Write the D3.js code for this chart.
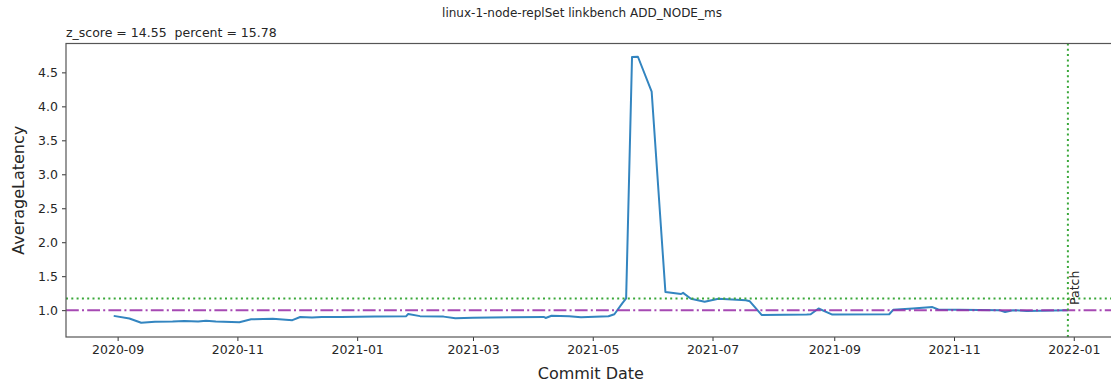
<!DOCTYPE html>
<html>
<head>
<meta charset="utf-8">
<script src="https://cdn.jsdelivr.net/npm/d3@7"></script>
<style>
  html, body { margin: 0; padding: 0; background: #fff; }
  svg { display: block; font-family: "DejaVu Sans", sans-serif; }
</style>
</head>
<body>
<svg id="chart" width="1111" height="387"></svg>
<script>
// ---- data ----
const dates = [
  "2020-08-30","2020-09-07","2020-09-13","2020-09-20","2020-09-29","2020-10-05",
  "2020-10-12","2020-10-16","2020-10-21","2020-11-02","2020-11-08","2020-11-19",
  "2020-11-29","2020-12-03","2020-12-09","2020-12-14","2020-12-24","2021-01-10",
  "2021-01-26","2021-01-27","2021-02-02","2021-02-14","2021-02-20","2021-03-01",
  "2021-03-20","2021-04-06","2021-04-07","2021-04-10","2021-04-19","2021-04-25",
  "2021-05-09","2021-05-12","2021-05-16","2021-05-18","2021-05-21","2021-05-24",
  "2021-05-31","2021-06-07","2021-06-12","2021-06-15","2021-06-16","2021-06-20",
  "2021-06-27","2021-07-04","2021-07-18","2021-07-20","2021-07-26","2021-08-18",
  "2021-08-20","2021-08-24","2021-08-31","2021-09-29","2021-10-01","2021-10-11",
  "2021-10-21","2021-10-24","2021-11-24","2021-11-27","2021-12-01","2021-12-08",
  "2021-12-29"
];
const latency = [
  0.916,0.878,0.815,0.830,0.832,0.842,
  0.832,0.845,0.832,0.822,0.866,0.872,
  0.853,0.900,0.892,0.898,0.900,0.908,
  0.912,0.945,0.912,0.905,0.880,0.890,
  0.895,0.900,0.885,0.918,0.910,0.895,
  0.910,0.940,1.100,1.175,4.725,4.730,
  4.215,1.268,1.250,1.238,1.255,1.168,
  1.125,1.168,1.145,1.130,0.930,0.935,
  0.940,1.025,0.935,0.940,1.005,1.025,
  1.045,1.010,1.000,0.972,1.000,0.988,
  1.000
];
const baselineValue = 1.0;
const thresholdValue = 1.172;
const patchDate = "2021-12-29";
const yTicks = [1.0, 1.5, 2.0, 2.5, 3.0, 3.5, 4.0, 4.5];
const xTicks = ["2020-09-01","2020-11-01","2021-01-01","2021-03-01","2021-05-01",
                "2021-07-01","2021-09-01","2021-11-01","2022-01-01"];
const titleText = "linux-1-node-replSet linkbench ADD_NODE_ms";
const subtitleText = "z_score = 14.55  percent = 15.78";
const xLabel = "Commit Date";
const yLabel = "AverageLatency";
const patchLabel = "Patch";

// ---- layout ----
const W = 1111, H = 387;
const L = 66, T = 43.5, B = 337, R = 1115.6;
const parse = d3.utcParse("%Y-%m-%d");
const fmt = d3.utcFormat("%Y-%m");
const pts = dates.map((d, i) => ({ d: parse(d), v: latency[i] }));

const ext = d3.extent(pts, p => p.d);
const span = ext[1] - ext[0];
const x = d3.scaleUtc()
  .domain([new Date(+ext[0] - 0.05 * span), new Date(+ext[1] + 0.05 * span)])
  .range([L, R]);
const y = d3.scaleLinear().domain([0.605, 4.925]).range([B, T]);

const svg = d3.select("#chart");
svg.append("rect").attr("width", W).attr("height", H).attr("fill", "#fff");

svg.append("defs").append("clipPath").attr("id", "clip")
  .append("rect").attr("x", L).attr("y", T).attr("width", R - L).attr("height", B - T);

const plot = svg.append("g").attr("clip-path", "url(#clip)");

// series line
plot.append("path")
  .datum(pts)
  .attr("fill", "none")
  .attr("stroke", "#3385c0")
  .attr("stroke-width", 2)
  .attr("stroke-linejoin", "round")
  .attr("d", d3.line().x(p => x(p.d)).y(p => y(p.v)));

// threshold (green dotted)
plot.append("line")
  .attr("x1", L).attr("x2", R)
  .attr("y1", y(thresholdValue)).attr("y2", y(thresholdValue))
  .attr("stroke", "#3aa83a").attr("stroke-width", 2)
  .attr("stroke-dasharray", "2,3.3");

// baseline (purple dash-dot)
plot.append("line")
  .attr("x1", L).attr("x2", R)
  .attr("y1", y(baselineValue)).attr("y2", y(baselineValue))
  .attr("stroke", "#9a30a8").attr("stroke-opacity", 0.88).attr("stroke-width", 2)
  .attr("stroke-dasharray", "12.8,3.2,2,3.2");

// patch vertical line
const px = x(parse(patchDate));
plot.append("line")
  .attr("x1", px).attr("x2", px)
  .attr("y1", T).attr("y2", B)
  .attr("stroke", "#3aa83a").attr("stroke-width", 2)
  .attr("stroke-dasharray", "2,3.3");

// axes
const xAxis = d3.axisBottom(x)
  .tickValues(xTicks.map(parse))
  .tickFormat(fmt)
  .tickSize(4).tickPadding(4);
const gx = svg.append("g").attr("transform", `translate(0,${B})`).call(xAxis);
gx.select(".domain").remove();

const yAxis = d3.axisLeft(y)
  .tickValues(yTicks)
  .tickFormat(d3.format(".1f"))
  .tickSize(4).tickPadding(4);
const gy = svg.append("g").attr("transform", `translate(${L},0)`).call(yAxis);
gy.select(".domain").remove();

[gx, gy].forEach(g => {
  g.selectAll(".tick line").attr("stroke", "#333").attr("stroke-width", 1);
  g.selectAll(".tick text")
    .attr("fill", "#262626")
    .style("font-family", "DejaVu Sans")
    .style("font-size", "12.5px");
});
gy.selectAll(".tick text").attr("dy", "0.34em");

// spines
svg.append("rect")
  .attr("x", L).attr("y", T).attr("width", R - L).attr("height", B - T)
  .attr("fill", "none").attr("stroke", "#555").attr("stroke-width", 1.2);

// texts
svg.append("text")
  .attr("x", 582).attr("y", 17)
  .attr("text-anchor", "middle")
  .attr("fill", "#262626")
  .style("font-size", "12px")
  .text(titleText);

svg.append("text")
  .attr("x", L).attr("y", 37)
  .attr("fill", "#262626")
  .attr("xml:space", "preserve")
  .style("white-space", "pre")
  .style("font-size", "12.5px")
  .text(subtitleText);

svg.append("text")
  .attr("x", (L + R) / 2).attr("y", 379)
  .attr("text-anchor", "middle")
  .attr("fill", "#262626")
  .style("font-size", "16px")
  .text(xLabel);

svg.append("text")
  .attr("transform", `translate(24,${(T + B) / 2}) rotate(-90)`)
  .attr("text-anchor", "middle")
  .attr("fill", "#262626")
  .style("font-size", "16px")
  .text(yLabel);

svg.append("text")
  .attr("transform", `translate(${px + 11},${305}) rotate(-90)`)
  .attr("text-anchor", "start")
  .attr("fill", "#262626")
  .style("font-size", "12.5px")
  .text(patchLabel);
</script>
</body>
</html>
